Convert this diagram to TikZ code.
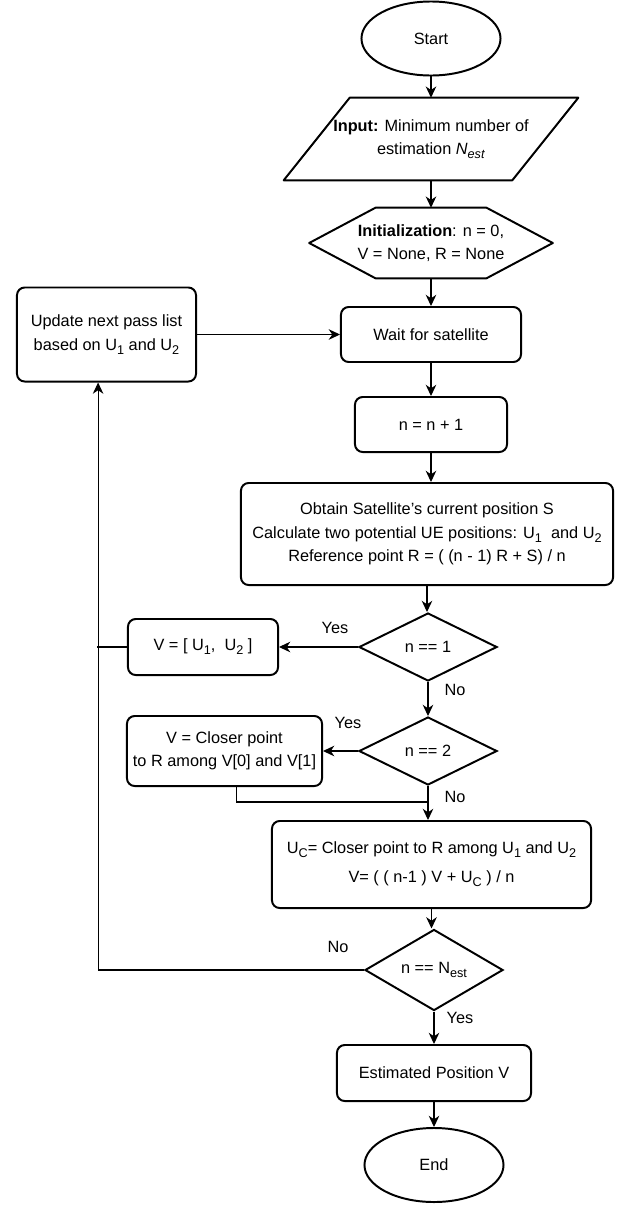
\documentclass[tikz,border=0pt]{standalone}
\usepackage{fontspec}
\setmainfont{Liberation Sans}
\usetikzlibrary{shapes.geometric, arrows.meta}
\newcommand{\indice}[1]{\raisebox{-0.45ex}{\fontsize{9}{10}\selectfont #1}}

\begin{document}
\begin{tikzpicture}[x=0.025cm, y=-0.025cm]
			\tikzset{boite/.style={rectangle, rounded corners=5.5pt, draw=black, line width=1.4pt, text centered, align=center, inner sep=2pt},
			ovale/.style={ellipse, draw=black, line width=1.4pt, minimum width=3.475cm, minimum height=1.85cm},
			losange/.style={diamond, draw=black, line width=1.4pt, minimum width=3.45cm, minimum height=1.7cm, inner sep=0pt},
			cadre/.style={align=center, inner sep=0pt},
			etiq/.style={inner sep=1pt},
			trait/.style={line width=0.75pt},
			contour/.style={line width=1.4pt, line join=round},
			fleche/.style={->, >={Stealth[length=8pt, width=7.5pt, inset=2.5pt]}, line width=0.75pt},
			every node/.style={font=\fontsize{11.6}{16.7}\selectfont}};
			\useasboundingbox (0,0) rectangle (630,1205);

			\node[ovale] (start) at (431, 38.5) {Start};
			\node[cadre, minimum width=7.35cm, minimum height=2.05cm] (input) at (431, 139)
				{\textbf{Input:} Minimum number of\\ estimation \textit{N}\indice{\textit{est}}};
			\draw[contour] (input.south west) -- ([xshift=1.65cm]input.north west) -- (input.north east)
				-- ([xshift=-1.65cm]input.south east) -- cycle;
			\node[cadre, minimum width=6.075cm, minimum height=1.75cm] (init) at (431, 243)
				{\textbf{Initialization}: n = 0,\\ V = None, R = None};
			\draw[contour] (init.west) -- ([xshift=-1.3875cm]init.north) -- ([xshift=1.3875cm]init.north)
				-- (init.east) -- ([xshift=1.3875cm]init.south) -- ([xshift=-1.3875cm]init.south) -- cycle;
			\node[boite, minimum width=4.5cm, minimum height=1.375cm] (wait) at (431, 334.5) {Wait for satellite};
			\node[boite, minimum width=4.475cm, minimum height=2.35cm] (update) at (106.5, 334.5)
				{Update next pass list\\ based on U\indice{1} and U\indice{2}};
			\node[boite, minimum width=3.8cm, minimum height=1.375cm] (incr) at (431, 424.5) {n = n + 1};
			\node[boite, minimum width=9.3cm, minimum height=2.55cm] (obtain) at (427, 534)
				{Obtain Satellite’s current position S\\ Calculate two potential UE positions: U\indice{1}\ \ and U\indice{2}\\ Reference point R = ( (n - 1) R + S) / n};
			\node[losange] (neq1) at (428, 647) {n == 1};
			\node[boite, minimum width=3.75cm, minimum height=1.4cm] (vinit) at (203, 647) {V = [ U\indice{1},\ \ U\indice{2} ]};
			\node[losange] (neq2) at (428, 751) {n == 2};
			\node[boite, minimum width=4.875cm, minimum height=1.75cm] (vclose) at (224.5, 751) {V = Closer point\\ to R among V[0] and V[1]};
			\node[boite, minimum width=7.975cm, minimum height=2.175cm] (ucalc) at (431.5, 864.5)
				{U\indice{C}= Closer point to R among U\indice{1} and U\indice{2}\\[4pt] V= ( ( n-1 ) V + U\indice{C} ) / n};
			\node[losange] (nest) at (434, 970) {n == N\indice{est}};
			\node[boite, minimum width=4.85cm, minimum height=1.4cm] (estim) at (434, 1073) {Estimated Position V};
			\node[ovale] (fin) at (434, 1165) {End};

			\node[etiq] (oui1) at (335, 628) {Yes};
			\node[etiq] (non1) at (455, 690) {No};
			\node[etiq] (oui2) at (348, 723) {Yes};
			\node[etiq] (non2) at (455, 797) {No};
			\node[etiq] (non3) at (338, 947) {No};
			\node[etiq] (oui3) at (460, 1018) {Yes};

			\coordinate (jonction) at (428, 802);

			\foreach \a/\b in {start/input, input/init, init/wait, wait/incr, incr/obtain, obtain/neq1, neq1/neq2, neq2/ucalc, ucalc/nest, nest/estim, estim/fin} {
				\draw[fleche] (\a) -- (\a |- \b.north);
			}
			\draw[fleche] (update) -- (wait);
			\draw[fleche] (neq1) -- (vinit);
			\draw[fleche] (neq2) -- (vclose);
			\draw[trait] ([xshift=0.29cm]vclose.south) |- (jonction);
			\draw[trait] (vinit.west) -- ([xshift=-0.75cm]vinit.west);
			\draw[fleche] (nest.west) -| ([xshift=-0.21cm]update.south);
		\end{tikzpicture}
\end{document}
